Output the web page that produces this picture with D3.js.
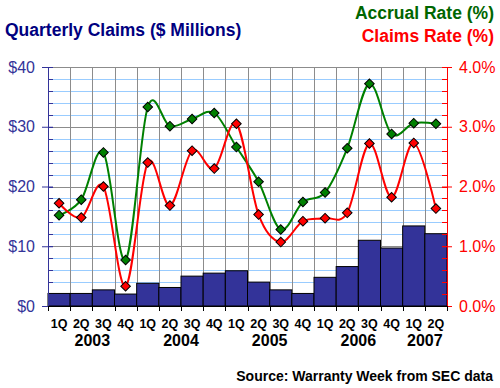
<!DOCTYPE html>
<html>
<head>
<meta charset="utf-8">
<script src="https://cdn.jsdelivr.net/npm/d3@7"></script>
<style>
  body { margin: 0; background: #fff; }
  svg { display: block; font-family: "Liberation Sans", Arial, sans-serif; }
</style>
</head>
<body>
<div id="chart"></div>
<script>
// Quarters and years
var quarters = ["1Q","2Q","3Q","4Q","1Q","2Q","3Q","4Q","1Q","2Q","3Q","4Q","1Q","2Q","3Q","4Q","1Q","2Q"];
var years = ["2003", "2004", "2005", "2006", "2007"];
var yearStart = [0, 4, 8, 12, 16];
var yearLength = [4, 4, 4, 4, 2];

// Series values
var claims = [2.1, 2.1, 2.7, 2.0, 3.8, 3.1, 5.0, 5.5, 5.9, 4.0, 2.7, 2.1, 4.8, 6.6, 11.0, 9.7, 13.4, 12.1];
var accrualRate = [1.52, 1.78, 2.57, 0.77, 3.33, 3.01, 3.13, 3.23, 2.66, 2.08, 1.28, 1.74, 1.90, 2.64, 3.72, 2.88, 3.06, 3.05];
var claimsRate = [1.72, 1.48, 2.00, 0.33, 2.40, 1.68, 2.60, 2.30, 3.05, 1.53, 1.07, 1.42, 1.47, 1.56, 2.72, 1.82, 2.73, 1.63];

// Axis ticks
var leftTicks = [0, 10, 20, 30, 40];
var rightTicks = [0, 1, 2, 3, 4];

var width = 500, height = 388;
var margin = {left: 48, right: 53, top: 67, bottom: 82};
var plotW = width - margin.left - margin.right;
var plotH = height - margin.top - margin.bottom;

var svg = d3.select('#chart').append('svg')
  .attr('width', width)
  .attr('height', height);

var idx = d3.range(quarters.length);
var x = d3.scaleBand().domain(idx).range([0, plotW]).padding(0);
var yL = d3.scaleLinear().domain([0, 40]).range([plotH, 0]);
var yR = d3.scaleLinear().domain([0, 4]).range([plotH, 0]);

var g = svg.append('g').attr('transform', 'translate(' + margin.left + ',' + margin.top + ')');

// Horizontal grid: light blue minors, gray majors
var minor = d3.range(2, 40, 2).filter(function(v) { return v % 10 !== 0; });
g.selectAll('.hminor').data(minor).enter().append('line')
  .attr('x1', 0).attr('x2', plotW)
  .attr('y1', function(d) { return Math.round(yL(d)) + 0.5; })
  .attr('y2', function(d) { return Math.round(yL(d)) + 0.5; })
  .attr('stroke', '#99ccff').attr('stroke-width', 1);
g.selectAll('.hmajor').data([10, 20, 30, 40]).enter().append('line')
  .attr('x1', 0).attr('x2', plotW)
  .attr('y1', function(d) { return Math.round(yL(d)) + 0.5; })
  .attr('y2', function(d) { return Math.round(yL(d)) + 0.5; })
  .attr('stroke', '#8c8c8c').attr('stroke-width', 1);

// Vertical grid at category boundaries
g.selectAll('.vgrid').data(idx.slice(1)).enter().append('line')
  .attr('x1', function(d) { return Math.round(x(d)) + 0.5; })
  .attr('x2', function(d) { return Math.round(x(d)) + 0.5; })
  .attr('y1', 0).attr('y2', plotH)
  .attr('stroke', '#8c8c8c').attr('stroke-width', 1);

// Bars
g.selectAll('.bar').data(claims).enter().append('rect')
  .attr('x', function(d, i) { return x(i); })
  .attr('y', function(d) { return yL(d); })
  .attr('width', x.bandwidth())
  .attr('height', function(d) { return plotH - yL(d); })
  .attr('fill', '#333399')
  .attr('stroke', '#000')
  .attr('stroke-width', 1);

// Lines
function drawSeries(values, lineColor, markFill) {
  var line = d3.line()
    .x(function(d, i) { return x(i) + x.bandwidth() / 2; })
    .y(function(d) { return yR(d); })
    .curve(d3.curveCatmullRom.alpha(0));
  g.append('path').datum(values)
    .attr('d', line)
    .attr('fill', 'none')
    .attr('stroke', lineColor)
    .attr('stroke-width', 2);
  var sym = d3.symbol().type(d3.symbolSquare).size(46);
  g.selectAll(null).data(values).enter().append('path')
    .attr('d', sym)
    .attr('transform', function(d, i) {
      return 'translate(' + (x(i) + x.bandwidth() / 2) + ',' + yR(d) + ') rotate(45)';
    })
    .attr('fill', markFill)
    .attr('stroke', '#000')
    .attr('stroke-width', 1);
}
drawSeries(accrualRate, '#008000', '#008000');
drawSeries(claimsRate, '#ff0000', '#ff0000');

// Left axis
var leftAxis = d3.axisLeft(yL).tickValues(leftTicks).tickSize(6)
  .tickFormat(function(d) { return '$' + d; });
var la = g.append('g').call(leftAxis);
la.select('.domain').attr('stroke', '#333399');
la.selectAll('.tick line').attr('stroke', '#333399').attr('x2', -6).attr('x1', 5);
la.selectAll('.tick text').attr('fill', '#333399').attr('font-size', '16px')
  .attr('font-family', '"Liberation Sans", Arial, sans-serif').attr('x', -13);
g.selectAll('.lminor').data(d3.range(2, 40, 2)).enter().append('line')
  .attr('x1', 0).attr('x2', 5)
  .attr('y1', function(d) { return Math.round(yL(d)) + 0.5; })
  .attr('y2', function(d) { return Math.round(yL(d)) + 0.5; })
  .attr('stroke', '#333399');

// Right axis
var rightAxis = d3.axisRight(yR).tickValues(rightTicks).tickSize(5)
  .tickFormat(function(d) { return d.toFixed(1) + '%'; });
var ra = g.append('g').attr('transform', 'translate(' + plotW + ',0)').call(rightAxis);
ra.select('.domain').attr('stroke', '#ff0000');
ra.selectAll('.tick line').attr('stroke', '#ff0000').attr('x1', -5).attr('x2', 5);
ra.selectAll('.tick text').attr('fill', '#ff0000').attr('font-size', '16px')
  .attr('font-family', '"Liberation Sans", Arial, sans-serif').attr('x', 12);
g.selectAll('.rminor').data(d3.range(0.2, 4, 0.2)).enter().append('line')
  .attr('x1', plotW - 5).attr('x2', plotW)
  .attr('y1', function(d) { return Math.round(yR(d)) + 0.5; })
  .attr('y2', function(d) { return Math.round(yR(d)) + 0.5; })
  .attr('stroke', '#ff0000');

// Bottom axis
g.append('line').attr('x1', 0).attr('x2', plotW)
  .attr('y1', plotH + 0.5).attr('y2', plotH + 0.5).attr('stroke', '#000');
g.selectAll('.xtick').data(idx.concat([quarters.length])).enter().append('line')
  .attr('x1', function(d) { return d < quarters.length ? Math.round(x(d)) + 0.5 : plotW + 0.5; })
  .attr('x2', function(d) { return d < quarters.length ? Math.round(x(d)) + 0.5 : plotW + 0.5; })
  .attr('y1', plotH).attr('y2', plotH + 5)
  .attr('stroke', '#000');
g.selectAll('.qlab').data(quarters).enter().append('text')
  .attr('x', function(d, i) { return x(i) + x.bandwidth() / 2; })
  .attr('y', plotH + 22)
  .attr('text-anchor', 'middle')
  .attr('font-size', '12.5px').attr('font-weight', 'bold')
  .text(function(d) { return d; });
g.selectAll('.ylab').data(years).enter().append('text')
  .attr('x', function(d, i) { return x(yearStart[i]) + yearLength[i] * x.bandwidth() / 2; })
  .attr('y', plotH + 40)
  .attr('text-anchor', 'middle')
  .attr('font-size', '16px').attr('font-weight', 'bold')
  .text(function(d) { return d; });

// Titles
svg.append('text').attr('x', 5).attr('y', 36)
  .attr('font-size', '17.5px').attr('font-weight', 'bold').attr('fill', '#000080')
  .text('Quarterly Claims ($ Millions)');
svg.append('text').attr('x', 494).attr('y', 19).attr('text-anchor', 'end')
  .attr('font-size', '17.5px').attr('font-weight', 'bold').attr('fill', '#006600')
  .text('Accrual Rate (%)');
svg.append('text').attr('x', 494).attr('y', 42).attr('text-anchor', 'end')
  .attr('font-size', '17.5px').attr('font-weight', 'bold').attr('fill', '#ff0000')
  .text('Claims Rate (%)');
svg.append('text').attr('x', 493).attr('y', 381).attr('text-anchor', 'end')
  .attr('font-size', '14px').attr('font-weight', 'bold').attr('fill', '#000')
  .text('Source: Warranty Week from SEC data');
</script>
</body>
</html>
